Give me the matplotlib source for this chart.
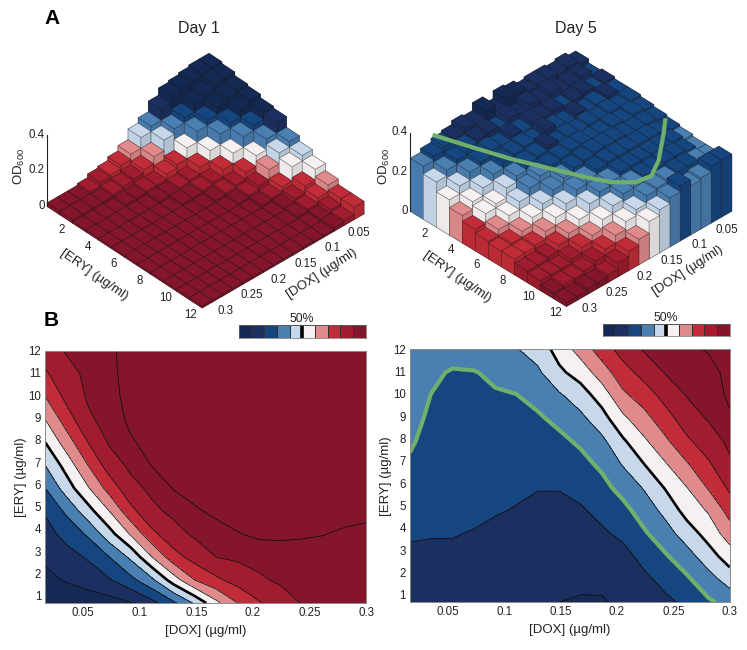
import numpy as np
import matplotlib
matplotlib.use("Agg")
import matplotlib.pyplot as plt
from matplotlib.colors import ListedColormap, to_rgb
from mpl_toolkits.mplot3d import proj3d

plt.rcParams["font.family"] = ["Liberation Sans", "DejaVu Sans"]
plt.rcParams["mathtext.default"] = "regular"

W, H = 747, 650

DOX = [0.0164, 0.0353, 0.0542, 0.0731, 0.092, 0.1109, 0.1298, 0.1487, 0.1676, 0.1865,
       0.2054, 0.2243, 0.2432, 0.2621, 0.281, 0.3]
ERY = [0.67, 1.7, 2.73, 3.76, 4.79, 5.82, 6.85, 7.88, 8.91, 9.94, 10.97, 12.0]

DOX_TICKS = [0.05, 0.1, 0.15, 0.2, 0.25, 0.3]
ERY_TICKS = [2, 4, 6, 8, 10, 12]
GRID_TICKS = list(range(1, 13))

# smoothed growth, percent, one row per ERY
DAY1_SURFACE = [
    [100, 98, 96, 94, 90.5, 83, 72, 58.5, 42.5, 30, 21, 15, 9.5, 8.5, 7.5, 7],
    [93, 89, 85.5, 81, 73, 62, 45, 30, 22, 16, 11.5, 8.5, 7.5, 7, 6.5, 6],
    [88, 83.5, 79, 70, 58, 40, 24, 16, 10, 8.5, 7, 6.5, 6.5, 6.5, 6.5, 6],
    [83.5, 77, 68.5, 54, 39, 22.5, 13.5, 8.5, 6.5, 5.2, 4.4, 4.4, 4.6, 4.9, 5.5, 5.8],
    [79, 68, 54, 40, 23, 12, 8, 5.5, 4.2, 3.5, 3.2, 3.2, 3.3, 3.5, 3.8, 4.2],
    [70, 55, 41, 26, 13, 8, 4.8, 3.6, 2.8, 2.4, 2.2, 2.2, 2.3, 2.5, 2.8, 3],
    [60, 46, 30, 15, 8, 4.8, 3.6, 2.6, 2.2, 1.9, 1.8, 1.8, 1.9, 2, 2.2, 2.4],
    [50, 35, 20, 8.9, 5.4, 3.8, 2.8, 2.2, 1.8, 1.6, 1.5, 1.5, 1.5, 1.6, 1.8, 1.9],
    [40, 25, 11.5, 7, 4.2, 3, 2.3, 1.9, 1.6, 1.4, 1.3, 1.3, 1.3, 1.3, 1.4, 1.6],
    [30, 17, 8.9, 6.2, 3.8, 2.8, 2.2, 1.8, 1.5, 1.3, 1.2, 1.2, 1.2, 1.2, 1.3, 1.4],
    [21.5, 12.7, 8.3, 5.9, 3.6, 2.7, 2.1, 1.7, 1.4, 1.2, 1.1, 1.1, 1.1, 1.1, 1.2, 1.3],
    [14, 9.3, 7.6, 5.7, 3.5, 2.6, 2, 1.6, 1.3, 1.1, 1, 1, 1, 1, 1.1, 1.2],
]

# one list per DOX, low to high ERY
DAY5_SURFACE_BY_DOX = [
    [86, 84, 82, 78.8, 76.3, 73.8, 71.3, 68.8, 67, 65.5, 64, 63],
    [87, 85, 82, 79.4, 77.9, 76.3, 74.8, 73.3, 71.7, 70.2, 68, 65],
    [87, 85, 81, 79.7, 78.3, 77, 75.6, 74.2, 72.9, 71.5, 71, 65],
    [87, 85.5, 83, 80.3, 78.7, 77.2, 75.8, 74.3, 72.9, 71.4, 70.5, 64],
    [88, 86, 84.5, 82, 79.3, 77.7, 76, 74.3, 72.7, 71, 68, 62.5],
    [88.5, 87, 85.5, 83.5, 80.5, 78.4, 76.3, 74.3, 72.2, 70.2, 66, 60.5],
    [89, 88, 86, 84, 81.5, 79.7, 76.9, 74.1, 71.3, 67, 61.6, 56],
    [90, 88.5, 87, 84.5, 82, 79.6, 76, 72.3, 67.6, 61.3, 52, 46],
    [91, 88, 85.7, 83.3, 81, 77.3, 73.1, 68.5, 62.4, 54.8, 45.7, 36],
    [91, 87.7, 84.5, 81.4, 77.5, 73.1, 68.2, 62.4, 54, 45.5, 35, 25],
    [88, 85.5, 83, 77.9, 73, 66.4, 59.2, 51.5, 42, 32, 23.8, 16],
    [85, 82, 77, 71.2, 65.3, 59, 50, 41.7, 33.3, 25, 16.3, 9],
    [82, 77, 71, 64, 57, 49, 40.8, 31.8, 23.8, 16.4, 9.3, 6.5],
    [78, 71.5, 64, 55, 46, 40, 31, 21.8, 14.7, 9.5, 7.5, 6],
    [71.5, 64, 54.5, 46, 39, 29, 21.5, 14.7, 9.2, 8, 6.8, 4.6],
    [67, 55.5, 45, 35, 26, 18, 11.5, 8, 5.7, 4, 3.5, 3],
]

# OD600 bars, in hundredths, one row per ERY
DAY1_BARS = [
    [33, 33, 32, 31, 30, 26, 20, 17, 11, 8, 6, 5, 3, 2, 2, 2],
    [32, 32, 29, 27, 23, 20, 17, 11, 7, 5, 4, 3, 2, 2, 2, 2],
    [30, 29, 27, 23, 20, 14, 8, 6, 3, 3, 2, 2, 1, 1, 1, 1],
    [29, 27, 23, 20, 14, 8, 4, 3, 2, 2, 1, 1, 1, 1, 1, 1],
    [27, 23, 20, 14, 8, 4, 3, 2, 2, 1, 1, 1, 1, 1, 1, 1],
    [26, 20, 14, 8, 4, 3, 2, 1, 1, 1, 1, 1, 1, 1, 1, 1],
    [20, 17, 11, 5, 3, 2, 1, 1, 1, 1, 1, 1, 1, 1, 1, 1],
    [17, 14, 6, 3, 2, 1, 1, 1, 1, 1, 1, 1, 1, 1, 1, 1],
    [14, 8, 4, 2, 1, 1, 1, 1, 1, 1, 1, 1, 1, 1, 1, 1],
    [10, 6, 3, 2, 1, 1, 1, 1, 1, 1, 1, 1, 1, 1, 1, 1],
    [7, 4, 2, 1, 1, 1, 1, 1, 1, 1, 1, 1, 1, 1, 1, 1],
    [7, 3, 2, 1, 1, 1, 1, 1, 1, 1, 1, 1, 1, 1, 1, 1],
]
DAY5_BARS = [
    [33, 35, 34, 35, 35, 34, 36, 37, 33, 37, 33, 34, 32, 31, 29, 27],
    [31, 34, 33, 32, 35, 33, 35, 32, 34, 31, 33, 32, 31, 28, 26, 23],
    [32, 31, 33, 32, 31, 33, 32, 33, 31, 32, 30, 31, 28, 26, 22, 18],
    [31, 32, 31, 30, 32, 30, 31, 33, 30, 31, 30, 29, 26, 22, 18, 14],
    [31, 30, 31, 30, 31, 30, 31, 30, 32, 30, 29, 26, 23, 18, 16, 11],
    [30, 31, 30, 31, 30, 30, 31, 31, 30, 29, 27, 24, 20, 16, 12, 9],
    [29, 30, 30, 30, 31, 31, 31, 30, 29, 27, 24, 20, 16, 12, 9, 8],
    [28, 29, 30, 30, 30, 30, 30, 29, 27, 25, 21, 17, 13, 9, 8, 8],
    [27, 29, 29, 29, 29, 29, 29, 27, 25, 22, 17, 13, 10, 7, 6, 6],
    [26, 28, 29, 29, 28, 28, 27, 25, 22, 18, 13, 10, 7, 5, 5, 5],
    [26, 27, 28, 28, 27, 26, 25, 21, 18, 14, 10, 7, 5, 4, 4, 3],
    [29, 29, 26, 25, 28, 25, 22, 19, 13, 10, 7, 4, 3, 3, 2, 2],
]

# isoline drawn over the Day 5 bars
ISO_DOX = [0.2791, 0.2621, 0.2432, 0.2205, 0.2016, 0.1846, 0.1629, 0.1374, 0.1071, 0.0608, 0.0391]
ISO_ERY = [0.876, 3.07, 5.39, 7.6, 9.45, 10.8, 11.71, 11.9, 11.16, 9.55, 8.74]
ISO_OD = 0.33

# low growth to high growth
BAND_COLORS = ["#84152a", "#a01c2e", "#c12c38", "#e08a8c", "#f6f0f0",
               "#c6d8ea", "#4a7fb2", "#164680", "#1b3060", "#142a55"]
CONTOUR_LEVELS = [0, 5, 10, 20, 30, 40, 50, 60, 70, 80, 90, 101]
LINE_LEVELS = [5, 10, 20, 30, 40, 60, 70, 80, 90]
GREEN = "#70b06c"
TEXT = "#222222"


def px_rect(left, top, right, bottom):
    return [left / W, 1 - bottom / H, (right - left) / W, (bottom - top) / H]


def shade(color, factor):
    return tuple(min(1.0, c * factor) for c in to_rgb(color))


def draw_bars(ax, bars, full_scale):
    for r, row in enumerate(bars):
        for c, od in enumerate(row):
            color = BAND_COLORS[min(int(od / full_scale * 10), 9)]
            # bottom, top, -y, +y, -x, +x
            faces = [color, color, color, shade(color, 0.9), color, shade(color, 0.97)]
            ax.bar3d(c, r, 0, 1, 1, od / 100, color=faces, shade=False,
                     edgecolor=(0.1, 0.1, 0.1, 0.45), linewidth=0.45, zorder=r + c + 1)


def label_3d(ax, x, y, z, s, fontsize=8.3, **kw):
    # placed as figure text, the 3d text class reports its box unprojected
    px, py, _ = proj3d.proj_transform(x, y, z, ax.get_proj())
    fx, fy = fig.transFigure.inverted().transform(ax.transData.transform((px, py)))
    kw.setdefault("ha", "center")
    fig.text(fx, fy, s, va="center", fontsize=fontsize, color=TEXT,
             rotation_mode="anchor", **kw)


def dress_3d(ax):
    ax.set_xlim(0, 16)
    ax.set_ylim(0, 12)
    ax.set_zlim(0, 0.4)
    ax.set_axis_off()
    ax.patch.set_visible(False)
    ax.plot([16, 16], [0, 0], [0, 0.4], color=TEXT, lw=0.8, zorder=1000)
    for z, s in [(0, "0"), (0.2, "0.2"), (0.4, "0.4")]:
        label_3d(ax, 16.1, -0.1, z, s, ha="right")
    for v in ERY_TICKS:
        label_3d(ax, 17.1, v, 0, str(v))
    for v in DOX_TICKS:
        u = (v - DOX[0]) / (DOX[1] - DOX[0]) + 1
        label_3d(ax, u - 1, 13, 0, f"{v:g}")
    label_3d(ax, 19, 6, 0, "[ERY] (µg/ml)", fontsize=9.5, rotation=-35)
    label_3d(ax, 7, 14.2, 0, "[DOX] (µg/ml)", fontsize=9.5, rotation=33)


def draw_contour(ax, surface, green=False):
    ax.contourf(DOX, ERY, surface, levels=CONTOUR_LEVELS,
                colors=[BAND_COLORS[0]] + BAND_COLORS)
    ax.contour(DOX, ERY, surface, levels=LINE_LEVELS, colors="#111111", linewidths=0.6)
    ax.contour(DOX, ERY, surface, levels=[50], colors="black", linewidths=1.9)
    if green:
        ax.contour(DOX, ERY, surface, levels=[70], colors=GREEN, linewidths=3)
    ax.set_xlim(DOX[0], DOX[-1])
    ax.set_ylim(ERY[0], ERY[-1])
    ax.set_xticks(DOX_TICKS, [f"{v:g}" for v in DOX_TICKS])
    ax.set_yticks(GRID_TICKS)
    ax.tick_params(length=0, labelsize=8.3, labelcolor=TEXT, pad=3)
    ax.set_xlabel("[DOX] (µg/ml)", fontsize=9.5, color=TEXT, labelpad=4)
    ax.set_ylabel("[ERY] (µg/ml)", fontsize=9.5, color=TEXT, labelpad=1)
    for sp in ax.spines.values():
        sp.set_color("#8a8a8a")
        sp.set_linewidth(0.7)


def draw_scale(rect):
    ax = fig.add_axes(px_rect(*rect))
    ax.pcolormesh([list(range(10))], cmap=ListedColormap(BAND_COLORS[::-1]),
                  edgecolors="#333333", linewidth=0.4)
    ax.axvline(5, color="black", lw=2.6)
    ax.set_xticks([])
    ax.set_yticks([])
    for sp in ax.spines.values():
        sp.set_color("#666666")
        sp.set_linewidth(0.5)
    ax.set_title("50%", fontsize=8.8, pad=1.5, color=TEXT)


fig = plt.figure(figsize=(W / 100, H / 100), dpi=100)

ax1 = fig.add_axes(px_rect(-25.5, -44.5, 424.5, 405.5), projection="3d", computed_zorder=False)
ax1.set_proj_type("ortho")
ax1.view_init(elev=38.1, azim=46.7)
ax1.set_box_aspect((673, 684, 275), zoom=0.712)
draw_bars(ax1, DAY1_BARS, 30)
dress_3d(ax1)

ax2 = fig.add_axes(px_rect(340, -47, 790, 403), projection="3d", computed_zorder=False)
ax2.set_proj_type("ortho")
ax2.view_init(elev=36.4, azim=45.8)
ax2.set_box_aspect((690, 670, 292), zoom=0.725)
draw_bars(ax2, DAY5_BARS, 40)
dress_3d(ax2)

day1 = np.array(DAY1_SURFACE)
day5 = np.array(DAY5_SURFACE_BY_DOX).T

ax3 = fig.add_axes(px_rect(45.3, 350.7, 366, 603))
draw_contour(ax3, day1)
ax4 = fig.add_axes(px_rect(410, 349.3, 729.7, 602.3))
draw_contour(ax4, day5, green=True)

u = (np.array(ISO_DOX) - DOX[0]) / (DOX[1] - DOX[0])
v = (np.array(ISO_ERY) - ERY[0]) / (ERY[1] - ERY[0])
ax2.plot(u, v, np.full(len(u), ISO_OD), color=GREEN, lw=3, zorder=900)

draw_scale((238.7, 325, 365.7, 337.7))
draw_scale((602.7, 323.7, 729.7, 336))

fig.text(199 / W, 1 - 29 / H, "Day 1", ha="center", va="center", fontsize=11.5, color=TEXT)
fig.text(576 / W, 1 - 29 / H, "Day 5", ha="center", va="center", fontsize=11.5, color=TEXT)
fig.text(44 / W, 1 - 18 / H, "A", fontweight="bold", fontsize=15, ha="left", va="center")
fig.text(44 / W, 1 - 320 / H, "B", fontweight="bold", fontsize=15, ha="left", va="center")
fig.text(19 / W, 1 - 166 / H, "OD$_{600}$", rotation=90, ha="center", va="center",
         fontsize=9.5, color=TEXT)
fig.text(384 / W, 1 - 166 / H, "OD$_{600}$", rotation=90, ha="center", va="center",
         fontsize=9.5, color=TEXT)

fig.savefig("out.png", dpi=100)
